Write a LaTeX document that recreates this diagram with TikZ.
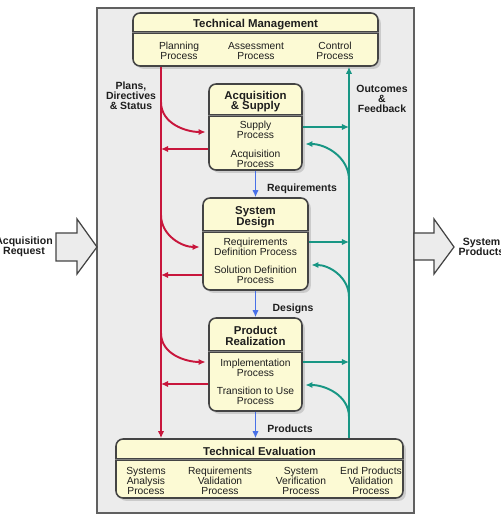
\documentclass[tikz,border=0pt]{standalone}
\usepackage{fontspec}
\setmainfont{Liberation Sans}
\usetikzlibrary{arrows.meta,shadows}
\definecolor{panelgray}{RGB}{236,236,236}
\definecolor{boxcream}{RGB}{252,250,212}
\definecolor{edgegray}{RGB}{68,68,68}
\definecolor{planred}{RGB}{200,22,60}
\definecolor{feedteal}{RGB}{24,150,132}
\definecolor{flowblue}{RGB}{72,112,232}
\definecolor{inkgray}{RGB}{30,30,30}
\begin{document}
\begin{tikzpicture}[x=0.02cm, y=-0.02cm, >={Latex[length=4pt,width=3.6pt]},
proc box/.style={draw=edgegray, line width=0.9pt, fill=boxcream, rounded corners=4pt, inner sep=0pt, drop shadow={shadow xshift=1.6pt, shadow yshift=-1.6pt, opacity=0.3}},
sep line/.style={draw=edgegray, line width=0.45pt, double=gray, double distance=0.6pt},
box title/.style={font=\bfseries\fontsize{6.5}{6.2}\selectfont, align=center, inner sep=0pt, text=inkgray},
box text/.style={font=\fontsize{5.85}{5.6}\selectfont, align=center, inner sep=0pt, text=inkgray},
flow label/.style={font=\bfseries\fontsize{5.95}{5.7}\selectfont, align=center, inner sep=0pt, text=inkgray},
block arrow/.style={draw=edgegray, fill=panelgray, line width=0.7pt},
plan/.style={->, planred, line width=1.1pt},
feed/.style={->, feedteal, line width=1.1pt},
flow/.style={->, flowblue, line width=1.1pt}]
\useasboundingbox (0,0) rectangle (500,516);
\draw[fill=panelgray, draw=edgegray!85, line width=0.8pt] (97,8) rectangle (414,513);

\draw[block arrow] (56,233) -- (77,233) -- (77,219) -- (97,247) -- (77,274) -- (77,261) -- (56,261) -- cycle;
\draw[block arrow] (414,233) -- (434,233) -- (434,219) -- (454,247) -- (434,274) -- (434,260) -- (414,260) -- cycle;
\node[flow label, font=\bfseries\fontsize{6}{5.8}\selectfont] (lacq) at (24,247) {Acquisition\\Request};
\node[flow label, font=\bfseries\fontsize{6}{5.8}\selectfont] (lsys) at (481.5,247) {System\\Products};

\node[proc box, minimum width=4.9cm, minimum height=1.06cm] (tm) at (255.5,39.5) {};
\node[proc box, minimum width=1.86cm, minimum height=1.72cm] (as) at (255.5,127) {};
\node[proc box, minimum width=2.1cm, minimum height=1.84cm] (sd) at (255.5,244) {};
\node[proc box, minimum width=1.86cm, minimum height=1.86cm] (pr) at (255.5,364.5) {};
\node[proc box, minimum width=5.74cm, minimum height=1.18cm] (te) at (259.5,468.5) {};

\draw[sep line] ([yshift=-0.4cm]tm.north west) -- ([yshift=-0.4cm]tm.north east);
\draw[sep line] ([yshift=-0.64cm]as.north west) -- ([yshift=-0.64cm]as.north east);
\draw[sep line] ([yshift=-0.68cm]sd.north west) -- ([yshift=-0.68cm]sd.north east);
\draw[sep line] ([yshift=-0.68cm]pr.north west) -- ([yshift=-0.68cm]pr.north east);
\draw[sep line] ([yshift=-0.42cm]te.north west) -- ([yshift=-0.42cm]te.north east);

\node[box title] (tmhead) at (255.5,24.5) {Technical Management};
\node[box text] (tmplan) at (179,51) {Planning\\Process};
\node[box text] (tmassess) at (256,51) {Assessment\\Process};
\node[box text] (tmctrl) at (335,51) {Control\\Process};

\node[box title] (ashead) at (255.5,101.5) {Acquisition\\\& Supply};
\node[box text] (assupply) at (255.5,130) {Supply\\Process};
\node[box text] (asacq) at (255.5,159) {Acquisition\\Process};

\node[box title] (sdhead) at (255.5,217) {System\\Design};
\node[box text] (sdreq) at (255.5,247) {Requirements\\Definition Process};
\node[box text] (sdsol) at (255.5,274.5) {Solution Definition\\Process};

\node[box title] (prhead) at (255.5,336) {Product\\Realization};
\node[box text] (primpl) at (255.5,368) {Implementation\\Process};
\node[box text] (prtrans) at (255.5,396) {Transition to Use\\Process};

\node[box title] (tehead) at (259.5,451.5) {Technical Evaluation};
\node[box text] (tesys) at (146,481) {Systems\\Analysis\\Process};
\node[box text] (tereq) at (220,481) {Requirements\\Validation\\Process};
\node[box text] (tever) at (301,481) {System\\Verification\\Process};
\node[box text] (teend) at (371,481) {End Products\\Validation\\Process};

\node[flow label] (lplans) at (131,96) {Plans,\\Directives\\\& Status};
\node[flow label] (lout) at (382,99) {Outcomes\\\&\\Feedback};
\node[flow label] (lreq) at (302,189) {Requirements};
\node[flow label] (ldes) at (293,309) {Designs};
\node[flow label] (lprod) at (290,429) {Products};

\coordinate (rx) at (161,0);
\coordinate (tx) at (349,0);
\coordinate (r1) at (161,102);
\coordinate (r2) at (161,215);
\coordinate (r3) at (161,333);
\coordinate (t1) at (349,180);
\coordinate (t2) at (349,297);
\coordinate (t3) at (349,417);

\draw[plan] (rx |- tm.south) -- (rx |- te.north);
\draw[feed] (tx |- te.north) -- (tx |- tm.south);

\draw[plan, shorten >=1.5pt] (r1) to[out=-90, in=180] ([yshift=-0.1cm]as.west);
\draw[plan, shorten >=1.5pt] (r2) to[out=-90, in=180] ([yshift=-0.06cm]sd.west);
\draw[plan, shorten >=1.5pt] (r3) to[out=-90, in=180] ([yshift=0.05cm]pr.west);
\draw[plan] ([yshift=-0.44cm]as.west) coordinate (a1) -- (a1 -| rx);
\draw[plan] ([yshift=-0.62cm]sd.west) coordinate (a2) -- (a2 -| rx);
\draw[plan] ([yshift=-0.39cm]pr.west) coordinate (a3) -- (a3 -| rx);

\draw[feed] (as.east) coordinate (b1) -- (b1 -| tx);
\draw[feed] ([yshift=0.04cm]sd.east) coordinate (b2) -- (b2 -| tx);
\draw[feed] ([yshift=0.05cm]pr.east) coordinate (b3) -- (b3 -| tx);
\draw[feed, shorten >=1.5pt] (t1) to[out=90, in=0] ([yshift=-0.34cm]as.east);
\draw[feed, shorten >=1.5pt] (t2) to[out=90, in=0] ([yshift=-0.42cm]sd.east);
\draw[feed, shorten >=1.5pt] (t3) to[out=90, in=0] ([yshift=-0.41cm]pr.east);

\draw[flow] (as.south) -- (sd.north);
\draw[flow] (sd.south) -- (pr.north);
\draw[flow] (pr.south) -- (pr.south |- te.north);
\end{tikzpicture}
\end{document}
